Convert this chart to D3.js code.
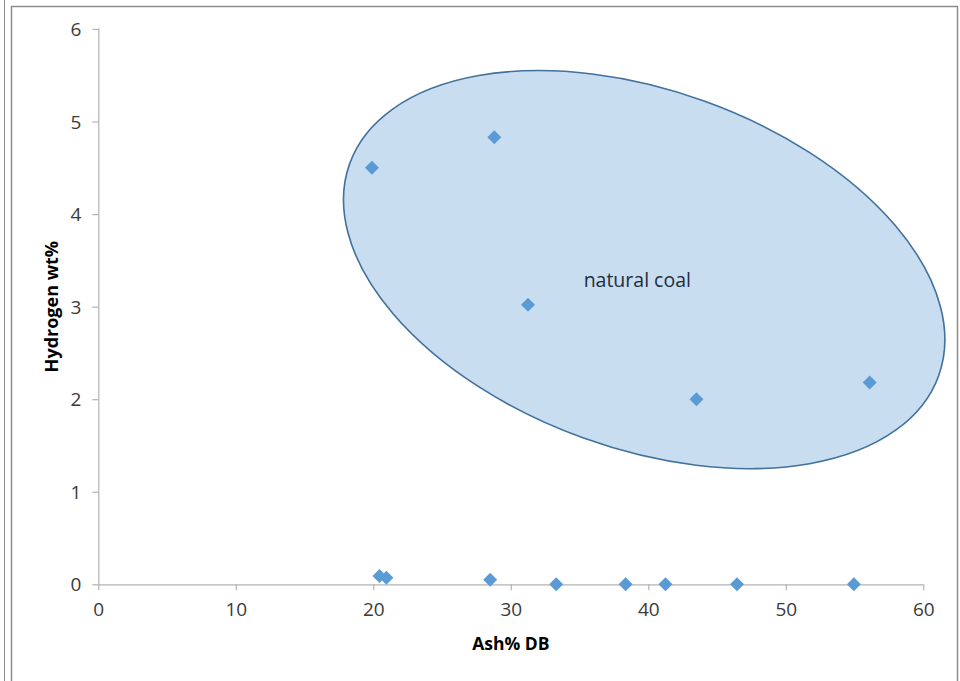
<!DOCTYPE html>
<html><head><meta charset="utf-8">
<script src="https://cdn.jsdelivr.net/npm/d3@7"></script>
<style>
html,body{margin:0;padding:0;background:#fff;}
svg{display:block;font-family:"Open Sans","Noto Sans",sans-serif;}
</style></head>
<body>
<svg id="chart" width="960" height="681"></svg>
<script>
// Data
const ashDB = [19.9, 28.8, 31.25, 43.5, 56.1, 20.45, 20.95, 28.5, 33.3, 38.35, 41.25, 46.45, 54.95];
const hydrogen = [4.5, 4.83, 3.02, 2.0, 2.18, 0.09, 0.07, 0.05, 0, 0, 0, 0, 0];
const xTicks = [0, 10, 20, 30, 40, 50, 60];
const yTicks = [0, 1, 2, 3, 4, 5, 6];
const annotationLabel = ["natural coal"];

const svg = d3.select("#chart");
const margin = {left: 98.3, right: 960 - 923.3, top: 29, bottom: 681 - 584.3};
const W = 960, H = 681;

// frame lines
svg.append("line").attr("x1",4.5).attr("x2",4.5).attr("y1",0).attr("y2",H).attr("stroke","#8c8c8c").attr("stroke-width",1);
svg.append("path").attr("d",`M11.5,${H} V6.5 H957.5 V${H}`).attr("fill","none").attr("stroke","#8c8c8c").attr("stroke-width",1.5);

const x = d3.scaleLinear().domain([0,60]).range([margin.left, W - margin.right]);
const y = d3.scaleLinear().domain([0,6]).range([H - margin.bottom, margin.top]);

// ellipse annotation (centre in data units)
const ell = {cx: 39.7, cy: 3.4, rx: 313, ry: 179, angle: 19.8};
svg.append("ellipse")
  .attr("transform", `translate(${x(ell.cx)},${y(ell.cy)}) rotate(${ell.angle})`)
  .attr("rx", ell.rx).attr("ry", ell.ry)
  .attr("fill", "#c9ddf1").attr("stroke", "#41719c").attr("stroke-width", 1.6);

svg.append("text").attr("x", x(39.2)).attr("y", 287)
  .attr("text-anchor","middle").style("font-size","19.5px").attr("fill","#1f2d3d")
  .text(annotationLabel[0]);

// axes
const xAxis = d3.axisBottom(x).tickValues(xTicks).tickFormat(d3.format("d")).tickSize(6).tickPadding(8);
const gx = svg.append("g").attr("transform",`translate(0,${y(0)})`).call(xAxis);
const yAxis = d3.axisLeft(y).tickValues(yTicks).tickFormat(d3.format("d")).tickSize(6).tickPadding(11);
const gy = svg.append("g").attr("transform",`translate(${x(0)},0)`).call(yAxis);
[gx, gy].forEach(g => {
  g.attr("font-size", null).attr("font-family", null);
  g.select(".domain").attr("stroke","#b3b3b3").attr("stroke-width",1.2);
  g.selectAll(".tick line").attr("stroke","#b3b3b3").attr("stroke-width",1.2);
  g.selectAll(".tick text").style("font-size","19px").attr("fill","#3a3a3a");
});
gy.select(".domain").attr("d", `M-0.5,${y(6)}H0.5V${y(0)}`);
gx.select(".domain").attr("d", `M${x(0)},0.5H${x(60)}`);
gx.selectAll(".tick text").attr("dy","0.95em");
gy.selectAll(".tick text").attr("dy","0.35em");

// points
const pts = ashDB.map((a,i)=>({a, h: hydrogen[i]}));
const diamond = d3.symbol().type(d3.symbolSquare).size(98);
svg.append("g").selectAll("path").data(pts).join("path")
  .attr("d", diamond)
  .attr("transform", d => `translate(${x(d.a)},${y(d.h)}) rotate(45)`)
  .attr("fill", "#5b9bd5");

// axis titles
svg.append("text").attr("x", (x(0)+x(60))/2).attr("y", 650)
  .attr("text-anchor","middle").style("font-size","17.5px").attr("font-weight","bold").attr("fill","#000")
  .text("Ash% DB");
svg.append("text").attr("transform",`translate(58,${(y(0)+y(6))/2}) rotate(-90)`)
  .attr("text-anchor","middle").style("font-size","18px").attr("font-weight","bold").attr("fill","#000")
  .text("Hydrogen wt%");
</script>
</body></html>
